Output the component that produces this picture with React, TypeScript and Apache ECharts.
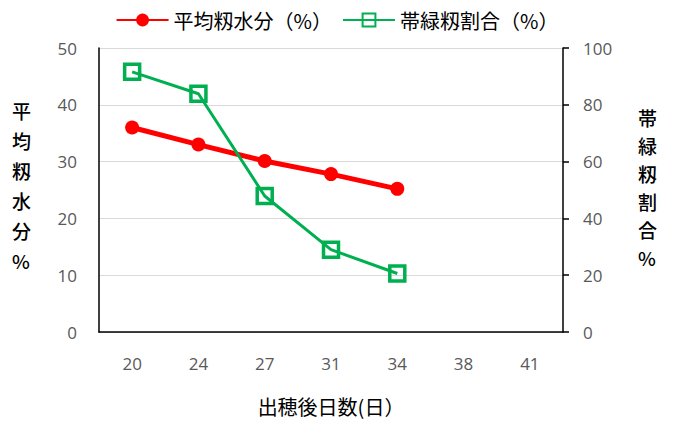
import React, { useEffect, useRef } from "react";
import * as echarts from "echarts";

const categories = ["20", "24", "27", "31", "34", "38", "41"];
const moistureValues = [36.0, 33.0, 30.1, 27.8, 25.2];
const greenRatioValues = [91.6, 83.9, 47.9, 29.0, 20.6];
const seriesNames = ["平均籾水分（%）", "帯緑籾割合（%）"];
const leftAxisName = "平均籾水分%";
const rightAxisName = "帯緑籾割合%";
const xAxisName = "出穂後日数(日）";

const FONT = "'Open Sans', 'Noto Sans CJK JP', sans-serif";
const CJK = "'Noto Sans CJK JP', sans-serif";

export default function App() {
  const ref = useRef<HTMLDivElement>(null);
  useEffect(() => {
    if (!ref.current) return;
    const chart = echarts.init(ref.current, undefined, { renderer: "svg" });
    const vertical = (s: string) => Array.from(s).join("\n");
    chart.setOption({
      animation: false,
      backgroundColor: "#ffffff",
      legend: {
        top: 5,
        left: "center",
        itemWidth: 52,
        itemHeight: 16,
        itemGap: 10,
        textStyle: { fontFamily: CJK, fontSize: 20, color: "#000" },
        data: seriesNames,
      },
      grid: { left: 99, right: 111, top: 48, bottom: 80, containLabel: false },
      graphic: [
        {
          type: "text",
          left: 12,
          top: 95,
          style: {
            text: vertical(leftAxisName),
            fontFamily: CJK,
            fontSize: 19,
            fontWeight: 500,
            lineHeight: 30,
            fill: "#000",
            align: "center",
          },
        },
        {
          type: "text",
          left: 638,
          top: 103,
          style: {
            text: vertical(rightAxisName),
            fontFamily: CJK,
            fontSize: 19,
            fontWeight: 500,
            lineHeight: 28,
            fill: "#000",
            align: "center",
          },
        },
      ],
      xAxis: {
        type: "category",
        data: categories,
        boundaryGap: true,
        name: xAxisName,
        nameLocation: "middle",
        nameGap: 64,
        nameTextStyle: { fontFamily: CJK, fontSize: 20, color: "#000", verticalAlign: "top" },
        axisLine: { lineStyle: { color: "#000", width: 1.5 } },
        axisTick: { show: false },
        axisLabel: { fontFamily: FONT, fontSize: 17, color: "#595959", margin: 23 },
        splitLine: { show: false },
      },
      yAxis: [
        {
          type: "value",
          min: 0,
          max: 50,
          interval: 10,
          position: "left",
          axisLine: { show: true, lineStyle: { color: "#000", width: 1.5 } },
          axisTick: { show: false },
          axisLabel: { fontFamily: FONT, fontSize: 17, color: "#595959", margin: 22 },
          splitLine: { show: true, lineStyle: { color: "#d9d9d9", width: 1 } },
        },
        {
          type: "value",
          min: 0,
          max: 100,
          interval: 20,
          position: "right",
          axisLine: { show: true, lineStyle: { color: "#000", width: 1.5 } },
          axisTick: { show: true, length: 6, lineStyle: { color: "#000", width: 1.5 } },
          axisLabel: { fontFamily: FONT, fontSize: 17, color: "#595959", margin: 20 },
          splitLine: { show: false },
        },
      ],
      series: [
        {
          name: seriesNames[0],
          type: "line",
          yAxisIndex: 0,
          data: moistureValues,
          symbol: "circle",
          symbolSize: 14,
          lineStyle: { color: "#ff0000", width: 5 },
          itemStyle: { color: "#ff0000" },
        },
        {
          name: seriesNames[1],
          type: "line",
          yAxisIndex: 1,
          data: greenRatioValues,
          symbol: "rect",
          symbolSize: 15,
          lineStyle: { color: "#00b050", width: 3 },
          itemStyle: { color: "rgba(255,255,255,0)", borderColor: "#00b050", borderWidth: 3.5 },
        },
      ],
    });
    return () => chart.dispose();
  }, []);
  return <div ref={ref} style={{ width: 674, height: 421, position: "absolute", left: 0, top: 0 }} />;
}
